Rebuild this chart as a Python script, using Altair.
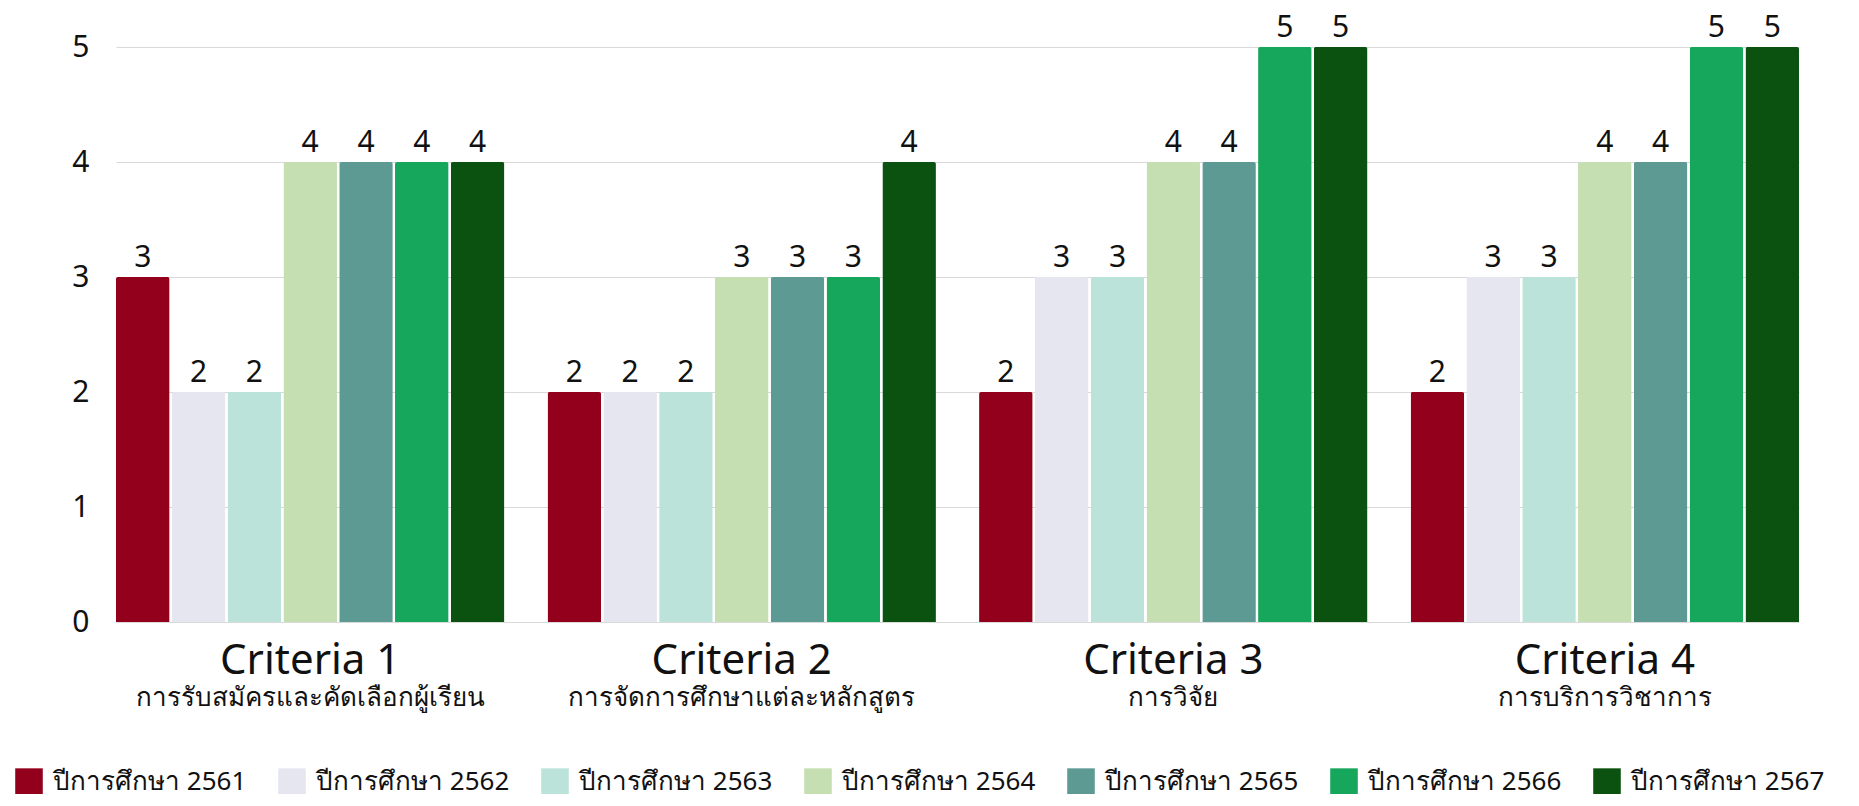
import altair as alt
import pandas as pd

criteria = ["Criteria 1", "Criteria 2", "Criteria 3", "Criteria 4"]
subtitles = [
    "การรับสมัครและคัดเลือกผู้เรียน",
    "การจัดการศึกษาแต่ละหลักสูตร",
    "การวิจัย",
    "การบริการวิชาการ",
]
years = [
    "ปีการศึกษา 2561",
    "ปีการศึกษา 2562",
    "ปีการศึกษา 2563",
    "ปีการศึกษา 2564",
    "ปีการศึกษา 2565",
    "ปีการศึกษา 2566",
    "ปีการศึกษา 2567",
]
s2561 = [3, 2, 2, 2]
s2562 = [2, 2, 3, 3]
s2563 = [2, 2, 3, 3]
s2564 = [4, 3, 4, 4]
s2565 = [4, 3, 4, 4]
s2566 = [4, 3, 5, 5]
s2567 = [4, 4, 5, 5]
series = [s2561, s2562, s2563, s2564, s2565, s2566, s2567]

bar_colors = ["#93001C", "#E6E6F0", "#BCE3DA", "#C5DFB3", "#5E9A94", "#17A75C", "#0B5210"]

rows = []
for y, vals in zip(years, series):
    for c, v in zip(criteria, vals):
        rows.append({"criteria": c, "year": y, "value": v})
df = pd.DataFrame(rows)

FONT = "Noto Sans"

x_main = alt.X(
    "criteria:N",
    sort=criteria,
    title=None,
    scale=alt.Scale(paddingInner=0.1, paddingOuter=0),
    axis=alt.Axis(
        domain=False, ticks=False, tickSize=0, grid=False,
        labelFontSize=42, labelColor="#111111", labelFont=FONT,
        labelBaseline="alphabetic", labelPadding=51, labelAngle=0, labelLimit=600,
    ),
)
sub_expr = "[" + ",".join("'" + s + "'" for s in subtitles) + "][indexof([" + ",".join("'" + c + "'" for c in criteria) + "], datum.value)]"
x_sub = alt.X(
    "criteria:N",
    sort=criteria,
    title=None,
    scale=alt.Scale(paddingInner=0.1, paddingOuter=0),
    axis=alt.Axis(
        orient="bottom", title=None,
        domain=False, ticks=False, tickSize=0, grid=False,
        labelFontSize=26, labelColor="#111111", labelFont=FONT,
        labelBaseline="alphabetic", labelPadding=83, labelAngle=0,
        labelExpr=sub_expr, labelLimit=600,
    ),
)
xoff = alt.XOffset("year:N", sort=years, scale=alt.Scale(paddingInner=0.04))
y_enc = alt.Y(
    "value:Q",
    title=None,
    scale=alt.Scale(domain=[0, 5], nice=False),
    axis=alt.Axis(
        values=[0, 1, 2, 3, 4, 5], format="d", domain=False, ticks=False, tickSize=0,
        labelFontSize=30, labelColor="#111111", labelFont=FONT, labelPadding=27,
        grid=True, gridColor="#D9D9D9", gridWidth=1,
    ),
)

base = alt.Chart(df)

bars = base.mark_bar(cornerRadiusTopLeft=2, cornerRadiusTopRight=2).encode(
    x=x_main,
    xOffset=xoff,
    y=y_enc,
    color=alt.Color(
        "year:N",
        sort=years,
        scale=alt.Scale(domain=years, range=bar_colors),
        legend=alt.Legend(
            title=None, orient="none", legendX=-101, legendY=721,
            direction="horizontal", columns=7, columnPadding=31,
            symbolType="square", symbolSize=760, symbolStrokeWidth=0,
            labelFontSize=26, labelFont=FONT, labelColor="#111111",
            labelOffset=10, labelLimit=400,
        ),
    ),
)

labels = base.mark_text(baseline="alphabetic", dy=-10, fontSize=30, font=FONT, color="#111111").encode(
    x=x_sub,
    xOffset=xoff,
    y=y_enc,
    text=alt.Text("value:Q"),
)

chart = (
    alt.layer(bars, labels)
    .resolve_axis(x="independent")
    .properties(
        width=1683,
        height=575,
        autosize=alt.AutoSizeParams(type="none"),
        padding={"left": 108, "top": 39, "right": 52, "bottom": 172},
    )
    .configure_view(stroke=None)
)

chart.save("out.html", embed_options={"renderer": "svg", "actions": False})
